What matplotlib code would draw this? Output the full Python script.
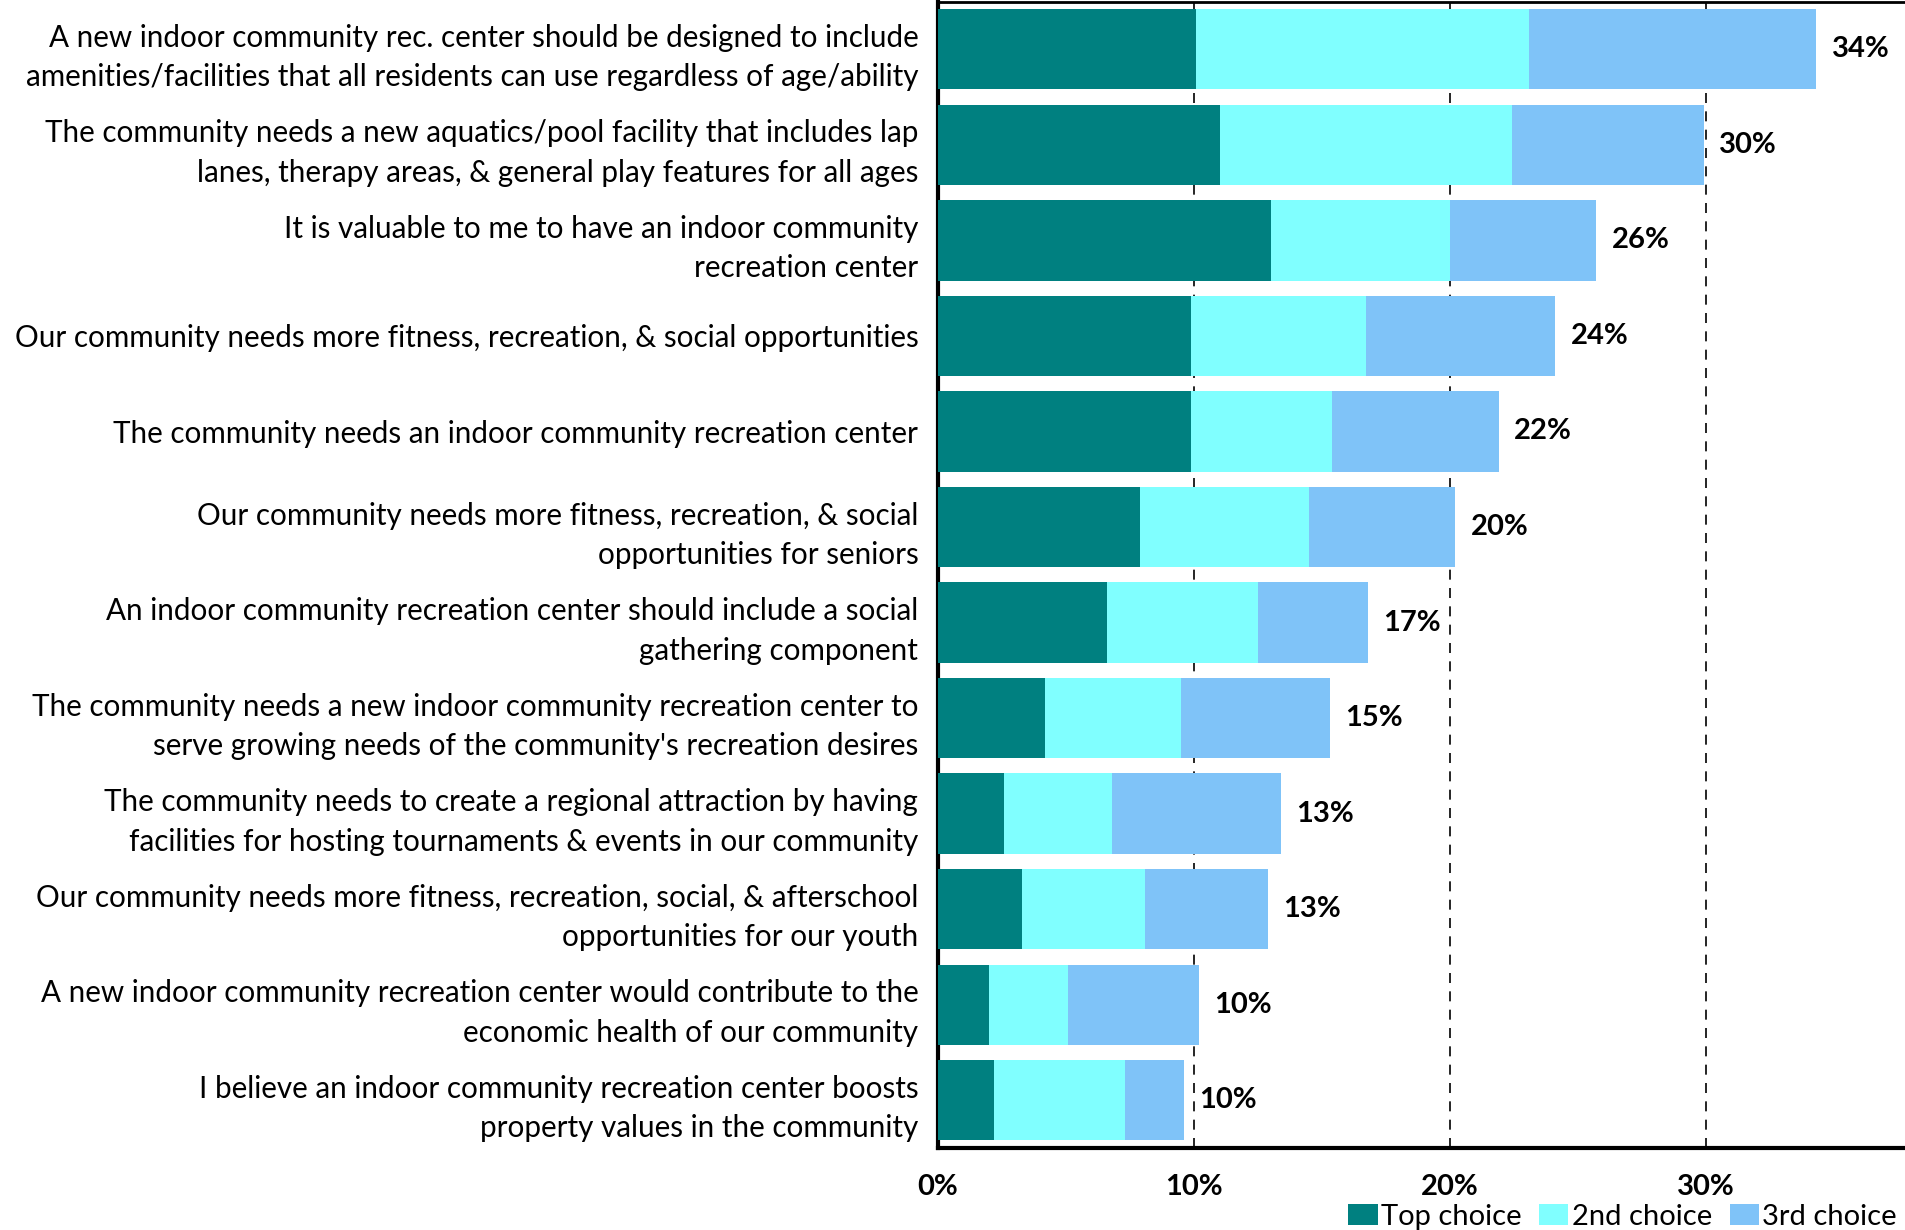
import matplotlib
matplotlib.use("Agg")
import matplotlib.pyplot as plt
import numpy as np

plt.rcParams['font.family'] = ['Lato', 'DejaVu Sans']

statements = [
    "A new indoor community rec. center should be designed to include\namenities/facilities that all residents can use regardless of age/ability",
    "The community needs a new aquatics/pool facility that includes lap\nlanes, therapy areas, & general play features for all ages",
    "It is valuable to me to have an indoor community\nrecreation center",
    "Our community needs more fitness, recreation, & social opportunities",
    "The community needs an indoor community recreation center",
    "Our community needs more fitness, recreation, & social\nopportunities for seniors",
    "An indoor community recreation center should include a social\ngathering component",
    "The community needs a new indoor community recreation center to\nserve growing needs of the community's recreation desires",
    "The community needs to create a regional attraction by having\nfacilities for hosting tournaments & events in our community",
    "Our community needs more fitness, recreation, social, & afterschool\nopportunities for our youth",
    "A new indoor community recreation center would contribute to the\neconomic health of our community",
    "I believe an indoor community recreation center boosts\nproperty values in the community",
]

# percent of respondents ranking each statement 1st / 2nd / 3rd
top_choice = [10.1, 11.0, 13.0, 9.9, 9.9, 7.9, 6.6, 4.2, 2.6, 3.3, 2.0, 2.2]
second_choice = [13.0, 11.4, 7.0, 6.8, 5.5, 6.6, 5.9, 5.3, 4.2, 4.8, 3.1, 5.1]
third_choice = [11.2, 7.5, 5.7, 7.4, 6.5, 5.7, 4.3, 5.8, 6.6, 4.8, 5.1, 2.3]

series = [("Top choice", top_choice, "#008080"),
          ("2nd choice", second_choice, "#80FFFF"),
          ("3rd choice", third_choice, "#7FC3F8")]

fs = 21

fig = plt.figure(figsize=(19.06, 12.30), dpi=100)
ax = fig.add_axes([0.492, 0.0667, 0.508, 0.932])

y = np.arange(len(statements))
left = np.zeros(len(statements))
for name, vals, color in series:
    vals = np.array(vals)
    ax.barh(y, vals, left=left, height=0.84, color=color, label=name, zorder=3)
    left += vals

# total share label at the end of each stacked bar
for yi, total in zip(y, left):
    ax.text(total + 0.6, yi, f"{total:.0f}%", va='center', ha='left',
            fontsize=fs, fontweight='bold')

ax.set_ylim(len(statements) - 0.5, -0.5)
ax.set_xlim(0, 37.8)
ax.set_yticks(y)
ax.set_yticklabels(statements, fontsize=21.3, linespacing=1.5)
ax.set_xticks([0, 10, 20, 30])
ax.set_xticklabels(["0%", "10%", "20%", "30%"], fontsize=fs, fontweight='bold')
ax.tick_params(axis='y', length=0, pad=14)
ax.tick_params(axis='x', length=0, pad=19)

ax.xaxis.grid(True, color='black', linestyle=(0, (6, 5)), linewidth=1.2, zorder=0)
ax.set_axisbelow(True)

ax.spines['left'].set_linewidth(3)
ax.spines['bottom'].set_linewidth(3)
ax.spines['top'].set_linewidth(2)
ax.spines['right'].set_visible(False)

fig.legend(loc='lower right', bbox_to_anchor=(1.009, -0.021), ncol=3, frameon=False,
           fontsize=fs, handlelength=1.0, handleheight=0.75, handletextpad=0.12,
           columnspacing=0.6)

fig.savefig("out.png", dpi=100)
